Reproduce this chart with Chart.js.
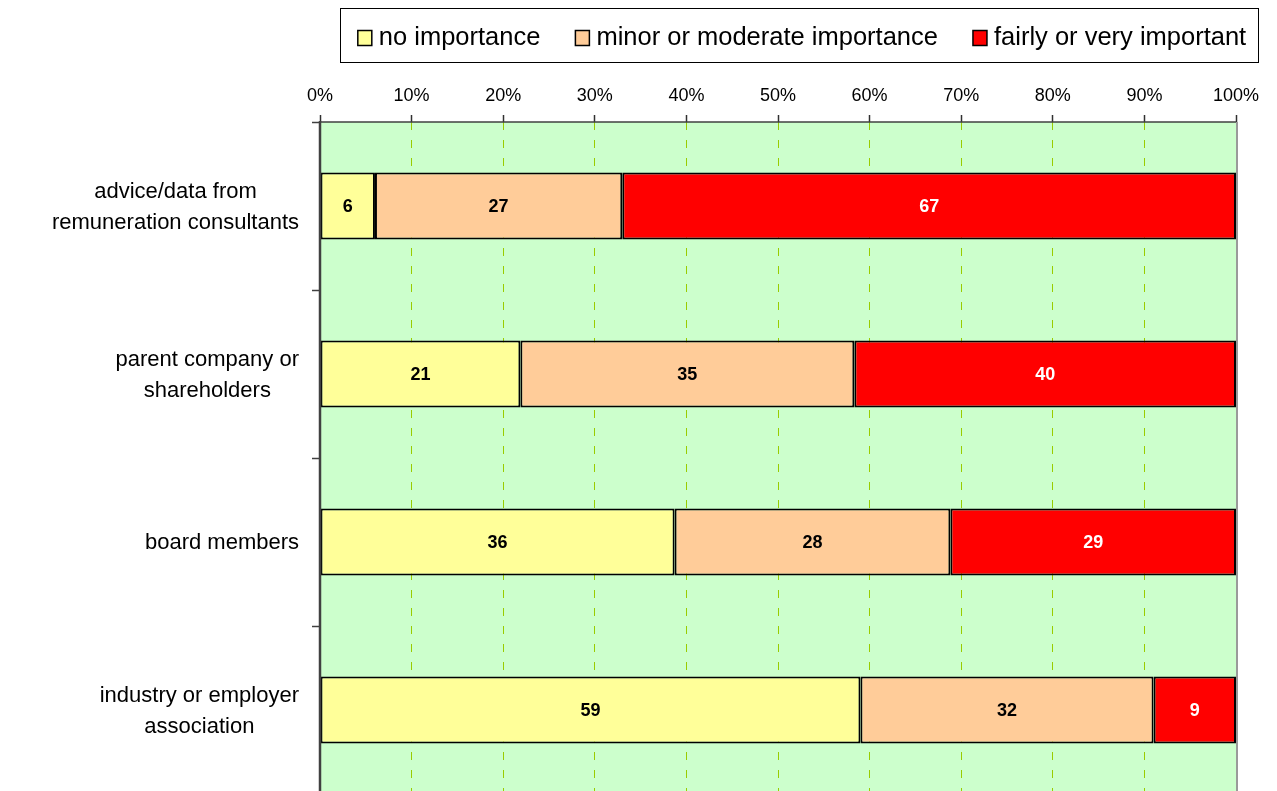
<!DOCTYPE html>
<html>
<head>
<meta charset="utf-8">
<script src="https://cdn.jsdelivr.net/npm/chart.js@4/dist/chart.umd.min.js"></script>
<style>
  html, body { margin: 0; padding: 0; background: #ffffff; overflow: hidden; }
  #wrap { width: 1277px; height: 791px; overflow: hidden; }
  canvas { display: block; }
</style>
</head>
<body>
<div id="wrap"><canvas id="chart" width="1277" height="800"></canvas></div>
<script>
// Sources of information used when setting remuneration (responses per importance level)
const categories = [
  ['advice/data from', 'remuneration consultants'],
  ['parent company or', 'shareholders'],
  ['board members'],
  ['industry or employer', 'association']
];
const seriesNames = ['no importance', 'minor or moderate importance', 'fairly or very important'];
const noImportance = [6, 21, 36, 59];
const minorModerate = [27, 35, 28, 32];
const fairlyVery = [67, 40, 29, 9];
const tickLabels = ['0%', '10%', '20%', '30%', '40%', '50%', '60%', '70%', '80%', '90%', '100%'];

const seriesColors = ['#FFFF99', '#FFCC99', '#FF0000'];
const labelColors = ['#000000', '#000000', '#FFFFFF'];
const FONT = "'Liberation Sans', Arial, Helvetica, sans-serif";

const rawSeries = [noImportance, minorModerate, fairlyVery];
// each row is shown as shares of its own total (100% stacked)
const rowTotals = categories.map((_, i) => rawSeries.reduce((s, arr) => s + arr[i], 0));
const shareOf = arr => arr.map((v, i) => v / rowTotals[i] * 100);

const datasets = rawSeries.map((arr, k) => ({
  label: seriesNames[k],
  data: shareOf(arr),
  rawValues: arr,
  backgroundColor: seriesColors[k],
  borderColor: '#000000',
  borderWidth: 2,
  borderSkipped: false,
  categoryPercentage: 1.0,
  barPercentage: 0.4
}));

const plotBackground = {
  id: 'plotBackground',
  beforeDraw(chart) {
    const { ctx, chartArea: a } = chart;
    ctx.save();
    ctx.fillStyle = '#CCFFCC';
    ctx.fillRect(a.left, a.top, a.right - a.left, a.bottom - a.top);
    ctx.restore();
  }
};

const axisLines = {
  id: 'axisLines',
  afterDatasetsDraw(chart) {
    const { ctx, chartArea: a } = chart;
    ctx.save();
    // right edge of plot area
    ctx.strokeStyle = '#9A9A9A';
    ctx.lineWidth = 2;
    ctx.beginPath();
    ctx.moveTo(a.right + 1, a.top);
    ctx.lineTo(a.right + 1, a.bottom);
    ctx.stroke();
    // value axis line along the top
    ctx.strokeStyle = '#404040';
    ctx.lineWidth = 1.5;
    ctx.beginPath();
    ctx.moveTo(a.left, a.top);
    ctx.lineTo(a.right, a.top);
    ctx.stroke();
    // category axis line on the left
    ctx.lineWidth = 2.5;
    ctx.beginPath();
    ctx.moveTo(a.left, a.top - 1);
    ctx.lineTo(a.left, a.bottom);
    ctx.stroke();
    ctx.restore();
  }
};

const barLabels = {
  id: 'barLabels',
  afterDatasetsDraw(chart) {
    const { ctx } = chart;
    ctx.save();
    ctx.font = 'bold 18px ' + FONT;
    ctx.textAlign = 'center';
    ctx.textBaseline = 'middle';
    chart.data.datasets.forEach((ds, k) => {
      const meta = chart.getDatasetMeta(k);
      meta.data.forEach((bar, i) => {
        const p = bar.getProps(['x', 'y', 'base'], true);
        ctx.fillStyle = labelColors[k];
        ctx.fillText(String(ds.rawValues[i]), (p.x + p.base) / 2, p.y + 1);
      });
    });
    ctx.restore();
  }
};

const categoryLabels = {
  id: 'categoryLabels',
  afterDraw(chart) {
    const { ctx } = chart;
    const yScale = chart.scales.y;
    const rightEdge = 299;
    const lineH = 31;
    ctx.save();
    ctx.font = '22px ' + FONT;
    ctx.fillStyle = '#000000';
    ctx.textAlign = 'center';
    ctx.textBaseline = 'middle';
    categories.forEach((lines, i) => {
      const cy = yScale.getPixelForValue(i) + 1;
      const w = Math.max(...lines.map(t => ctx.measureText(t).width));
      const cx = rightEdge - w / 2;
      const y0 = cy - (lines.length - 1) * lineH / 2;
      lines.forEach((t, j) => ctx.fillText(t, cx, y0 + j * lineH));
    });
    ctx.restore();
  }
};

const boxedLegend = {
  id: 'boxedLegend',
  afterDraw(chart) {
    const { ctx } = chart;
    const frame = { left: 340, top: 8, right: 1258, bottom: 62 };
    const boxW = 14, boxH = 15, boxGap = 7, itemGap = 35;
    ctx.save();
    ctx.fillStyle = '#FFFFFF';
    ctx.fillRect(frame.left, frame.top, frame.right - frame.left, frame.bottom - frame.top);
    ctx.strokeStyle = '#000000';
    ctx.lineWidth = 1;
    ctx.strokeRect(frame.left + 0.5, frame.top + 0.5, frame.right - frame.left, frame.bottom - frame.top);
    ctx.font = '25.5px ' + FONT;
    const widths = chart.data.datasets.map(ds => ctx.measureText(ds.label).width);
    const total = widths.reduce((s, w) => s + boxW + boxGap + w, 0) + itemGap * (widths.length - 1);
    let x = (frame.left + frame.right) / 2 - total / 2 + 3;
    const cy = (frame.top + frame.bottom) / 2 + 3;
    ctx.textBaseline = 'middle';
    ctx.textAlign = 'left';
    chart.data.datasets.forEach((ds, k) => {
      ctx.fillStyle = ds.backgroundColor;
      ctx.fillRect(x, cy - boxH / 2, boxW, boxH);
      ctx.strokeStyle = '#000000';
      ctx.lineWidth = 1.5;
      ctx.strokeRect(x, cy - boxH / 2, boxW, boxH);
      ctx.fillStyle = '#000000';
      ctx.fillText(ds.label, x + boxW + boxGap, cy);
      x += boxW + boxGap + widths[k] + itemGap;
    });
    ctx.restore();
  }
};

new Chart(document.getElementById('chart'), {
  type: 'bar',
  data: { labels: categories.map(l => l.join(' ')), datasets },
  options: {
    responsive: false,
    devicePixelRatio: 1,
    animation: false,
    indexAxis: 'y',
    layout: { padding: { top: 0, right: 41, bottom: 6, left: 0 } },
    plugins: {
      legend: { display: false },
      tooltip: { enabled: false }
    },
    scales: {
      x: {
        position: 'top',
        stacked: true,
        min: 0,
        max: 100,
        afterFit(scale) { scale.height = 122; },
        ticks: {
          stepSize: 10,
          padding: 8,
          color: '#000000',
          font: { family: FONT, size: 18 },
          callback: (v) => tickLabels[Math.round(v / 10)]
        },
        grid: {
          color: (c) => (c.tick && (c.tick.value === 0 || c.tick.value === 100)) ? 'rgba(0,0,0,0)' : '#99CC00',
          lineWidth: 1,
          tickLength: 7,
          tickColor: '#303030',
          tickWidth: 1.5
        },
        border: { display: false, dash: [8, 10] }
      },
      y: {
        stacked: true,
        afterFit(scale) {
          scale.width = 320;
          scale.paddingTop = 0;
          scale.paddingBottom = 0;
        },
        ticks: { color: 'rgba(0,0,0,0)', font: { family: FONT, size: 1 } },
        grid: {
          offset: true,
          drawOnChartArea: false,
          tickLength: 8,
          tickColor: '#404040',
          tickWidth: 1.5
        },
        border: { display: false }
      }
    }
  },
  plugins: [plotBackground, axisLines, barLabels, categoryLabels, boxedLegend]
});
</script>
</body>
</html>
